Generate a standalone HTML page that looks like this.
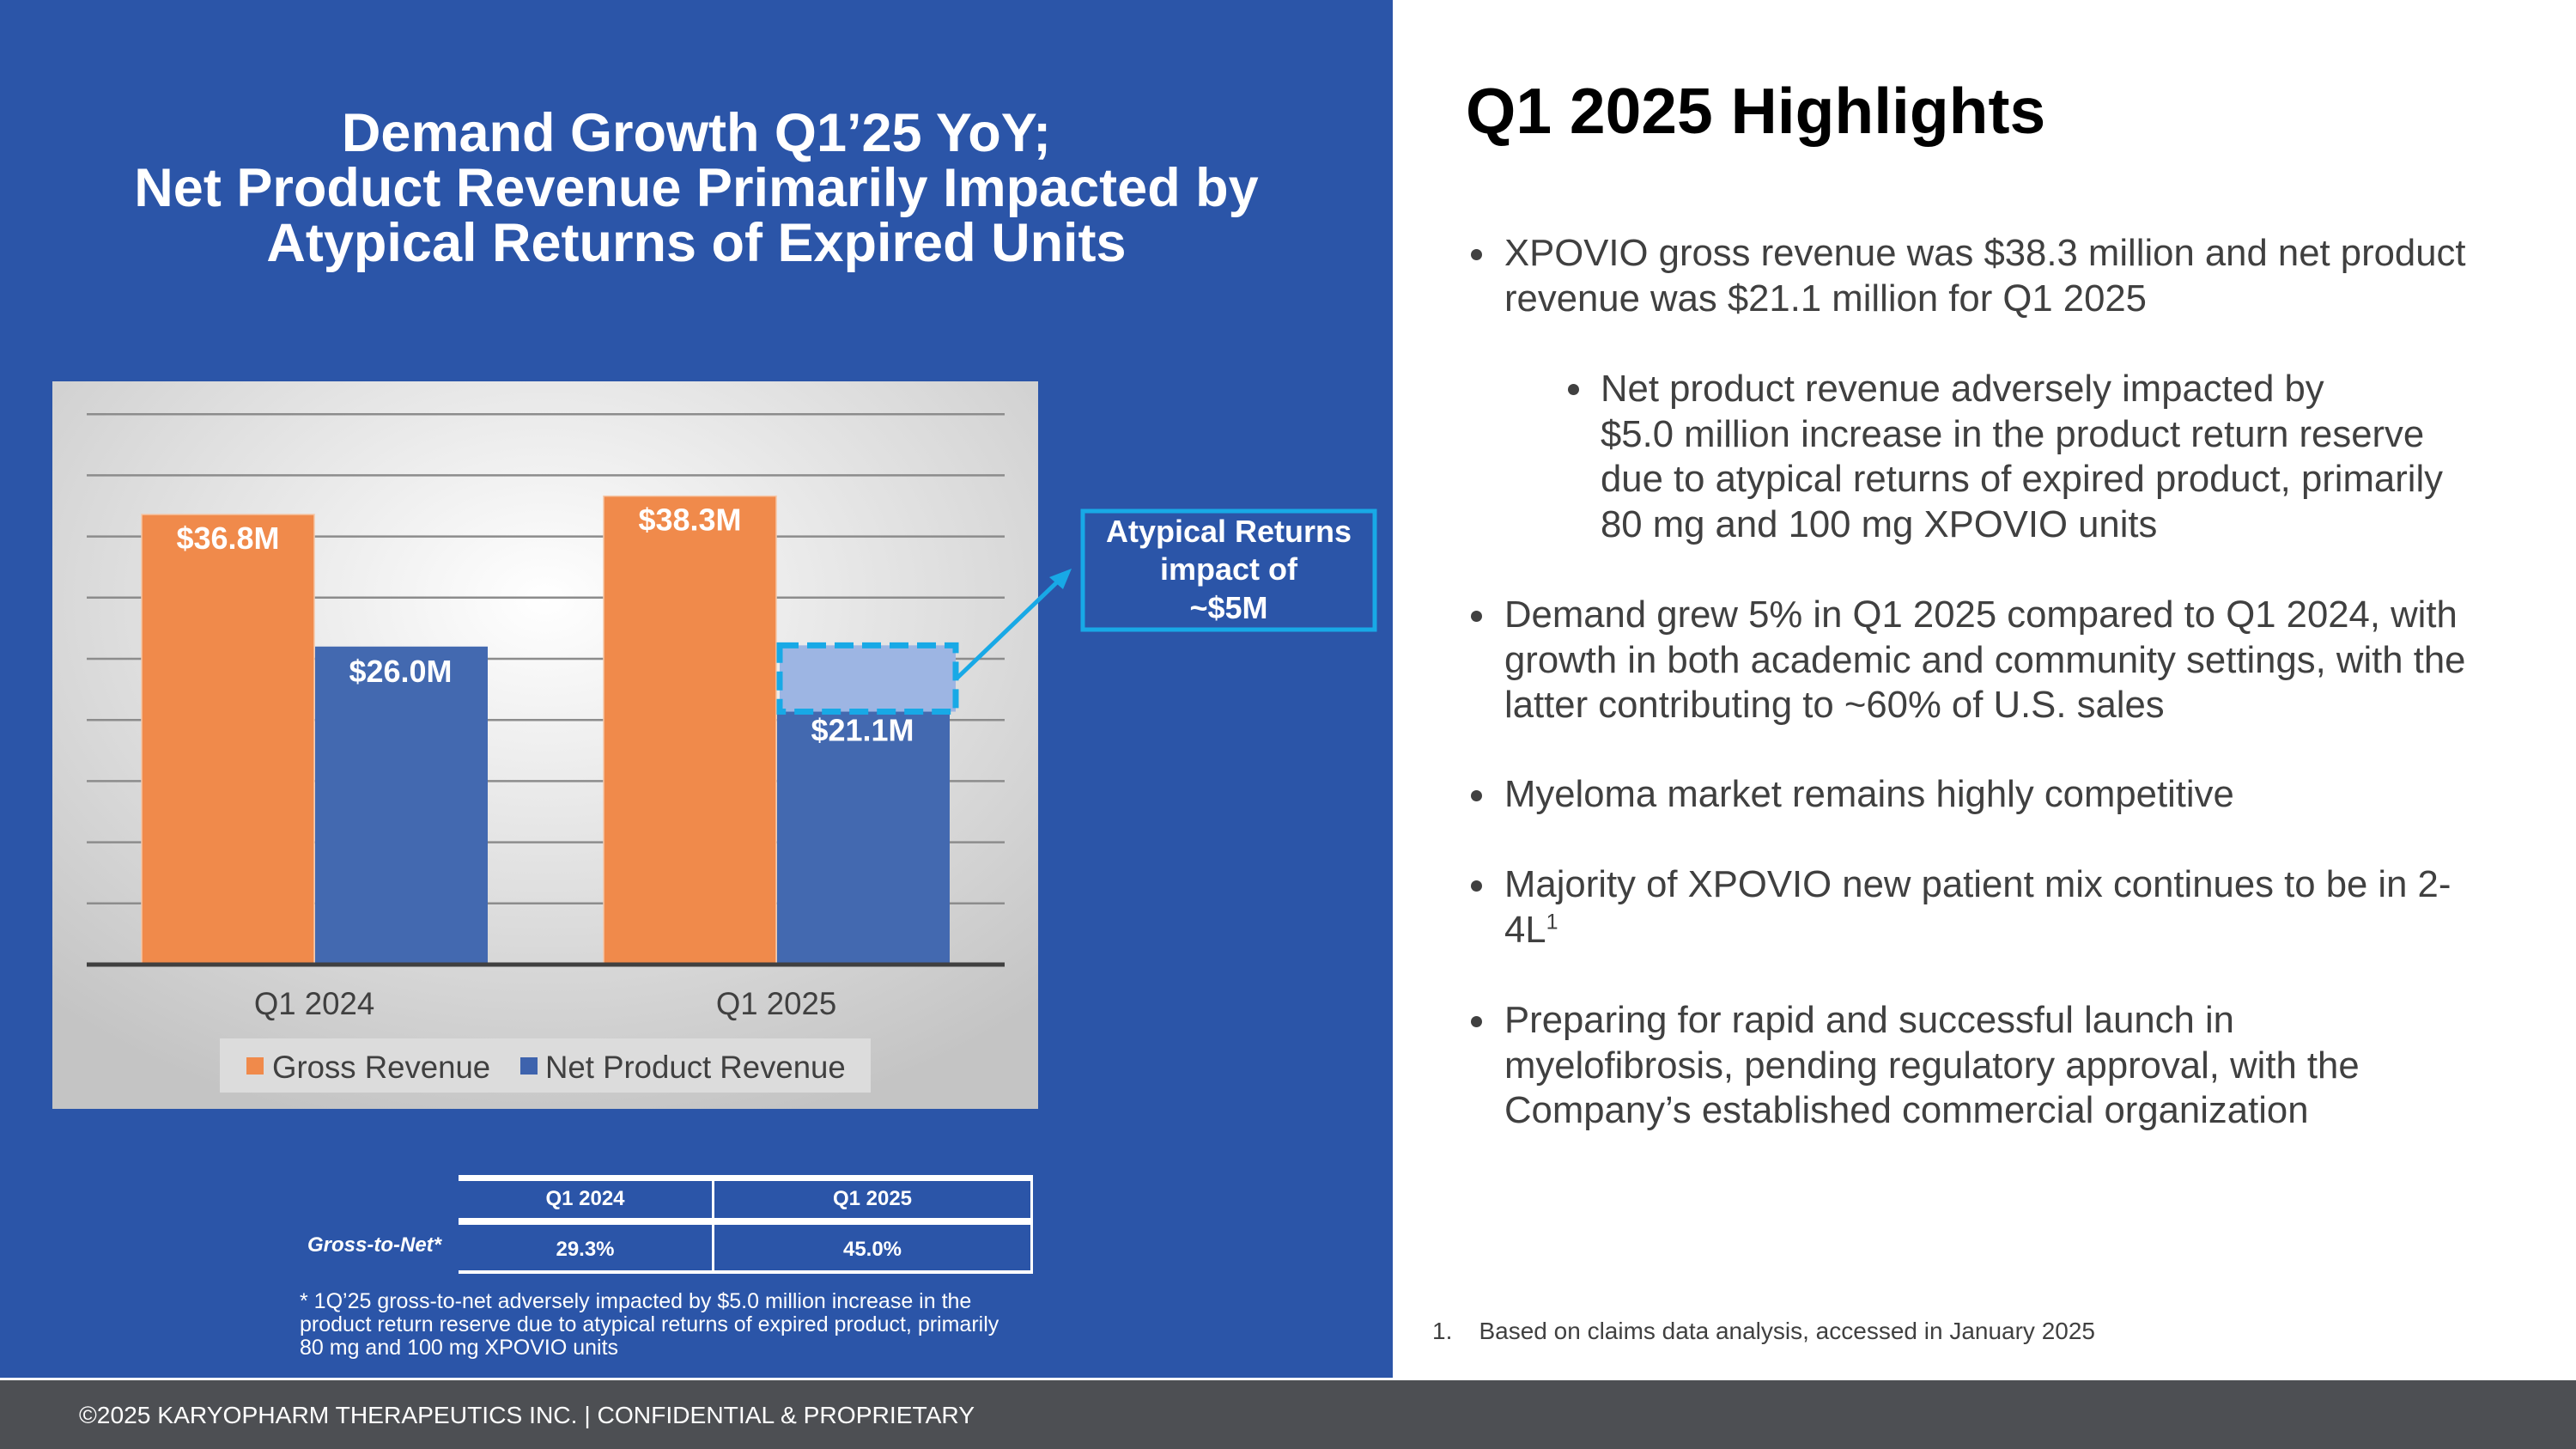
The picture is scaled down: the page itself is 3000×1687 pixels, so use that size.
<!DOCTYPE html>
<html><head><meta charset="utf-8"><style>
body{margin:0;width:3000px;height:1687px;position:relative;overflow:hidden;background:#fff;font-family:"Liberation Sans",sans-serif}
.a{position:absolute;white-space:nowrap}
.t{color:#fff;font-weight:bold;font-size:63px;left:0;width:1622px;text-align:center;line-height:64px}
.b{color:#404040;font-size:43.7px;line-height:52.5px}
.d{position:absolute;width:13px;height:13px;border-radius:50%;background:#404040}
</style></head><body>
<div class="a" style="left:0;top:0;width:1622px;height:1604px;background:#2b55a8"></div>
<div class="a t" style="top:123px">Demand Growth Q1’25 YoY;</div>
<div class="a t" style="top:187px">Net Product Revenue Primarily Impacted by</div>
<div class="a t" style="top:251px">Atypical Returns of Expired Units</div>

<svg class="a" style="left:0;top:0" width="3000" height="1687">
<defs><radialGradient id="g" cx="0.5" cy="0.3" r="0.75"><stop offset="0" stop-color="#ffffff"/><stop offset="1" stop-color="#c4c4c4"/></radialGradient></defs>
<rect x="61" y="444" width="1148" height="847" fill="url(#g)"/>
<g id="grid"></g><g id="bars"></g>
<rect x="256" y="1209" width="758" height="63" fill="#dcdcdc"/>
<rect x="287" y="1231" width="20" height="20" fill="#f08a4b"/>
<text x="317" y="1255" font-size="36.6" fill="#404040" font-family="Liberation Sans">Gross Revenue</text>
<rect x="606" y="1231" width="20" height="20" fill="#3e63ad"/>
<text x="635" y="1255" font-size="36.6" fill="#404040" font-family="Liberation Sans">Net Product Revenue</text>
<line x1="1114" y1="790" x2="1236" y2="673" stroke="#18a9e6" stroke-width="5"/>
<polygon points="1248,662 1222,672 1238,686" fill="#18a9e6"/>
<rect x="1261" y="595" width="340" height="138" fill="none" stroke="#18a9e6" stroke-width="5"/>
<text font-family="Liberation Sans" font-weight="bold" font-size="36" fill="#fff" text-anchor="middle"><tspan x="1431" y="631">Atypical Returns</tspan><tspan x="1431" y="675">impact of</tspan><tspan x="1431" y="720">~$5M</tspan></text>
</svg>

<div class="a" style="left:534px;top:1368px;width:669px;height:114px">
<div class="a" style="left:0;top:0;width:669px;height:7px;background:#fff"></div>
<div class="a" style="left:0;top:50px;width:669px;height:8px;background:#fff"></div>
<div class="a" style="left:0;top:111px;width:669px;height:4px;background:#fff"></div>
<div class="a" style="left:295px;top:0;width:3px;height:114px;background:#fff"></div>
<div class="a" style="left:666px;top:0;width:3px;height:114px;background:#fff"></div>
<div class="a" style="left:0;width:295px;top:14px;text-align:center;color:#fff;font-weight:bold;font-size:24px">Q1 2024</div>
<div class="a" style="left:298px;width:368px;top:14px;text-align:center;color:#fff;font-weight:bold;font-size:24px">Q1 2025</div>
<div class="a" style="left:0;width:295px;top:73px;text-align:center;color:#fff;font-weight:bold;font-size:24px">29.3%</div>
<div class="a" style="left:298px;width:368px;top:73px;text-align:center;color:#fff;font-weight:bold;font-size:24px">45.0%</div>
</div>
<div class="a" style="left:300px;width:214px;text-align:right;top:1436px;color:#fff;font-weight:bold;font-style:italic;font-size:24px">Gross-to-Net*</div>
<div class="a" style="left:349px;top:1502px;color:#fff;font-size:25px;line-height:27px">* 1Q’25 gross-to-net adversely impacted by $5.0 million increase in the<br>product return reserve due to atypical returns of expired product, primarily<br>80 mg and 100 mg XPOVIO units</div>

<div class="a" style="left:1707px;top:86px;font-size:75px;font-weight:bold;color:#000">Q1 2025 Highlights</div>
<div>
<div class="d" style="left:1713px;top:290px"></div>
<div class="a b" style="left:1752px;top:269px">XPOVIO gross revenue was $38.3 million and net product<br>revenue was $21.1 million for Q1 2025</div>
<div class="d" style="left:1826px;top:447px"></div>
<div class="a b" style="left:1864px;top:427px">Net product revenue adversely impacted by<br>$5.0 million increase in the product return reserve<br>due to atypical returns of expired product, primarily<br>80 mg and 100 mg XPOVIO units</div>
<div class="d" style="left:1713px;top:711px"></div>
<div class="a b" style="left:1752px;top:690px">Demand grew 5% in Q1 2025 compared to Q1 2024, with<br>growth in both academic and community settings, with the<br>latter contributing to ~60% of U.S. sales</div>
<div class="d" style="left:1713px;top:920px"></div>
<div class="a b" style="left:1752px;top:899px">Myeloma market remains highly competitive</div>
<div class="d" style="left:1713px;top:1025px"></div>
<div class="a b" style="left:1752px;top:1004px">Majority of XPOVIO new patient mix continues to be in 2-<br>4L<sup style="font-size:25px;line-height:0">1</sup></div>
<div class="d" style="left:1713px;top:1183px"></div>
<div class="a b" style="left:1752px;top:1162px">Preparing for rapid and successful launch in<br>myelofibrosis, pending regulatory approval, with the<br>Company’s established commercial organization</div>
</div>
<div class="a" style="left:1668px;top:1534px;font-size:28px;color:#404040">1.&nbsp;&nbsp;&nbsp;&nbsp;Based on claims data analysis, accessed in January 2025</div>
<div class="a" style="left:0;top:1607px;width:3000px;height:80px;background:#4d4f53"></div>
<div class="a" style="left:92px;top:1631px;font-size:28.2px;color:#fff">©2025 KARYOPHARM THERAPEUTICS INC. | CONFIDENTIAL &amp; PROPRIETARY</div>

<script>
const categories = ["Q1 2024", "Q1 2025"];
const grossValues = [36.8, 38.3];
const netValues = [26.0, 21.1];
const returnImpact = [0, 5.0];
const yTicks = [0,5,10,15,20,25,30,35,40,45];
const NS="http://www.w3.org/2000/svg";
const y = v => 1123 - v*14.24;
const bandStart=97, bandW=538, barW=201;
const cx = i => bandStart + bandW*i + bandW/2;
function mk(tag, attrs, parent){const e=document.createElementNS(NS,tag);for(const k in attrs)e.setAttribute(k,attrs[k]);parent.appendChild(e);return e;}
const grid=document.getElementById('grid'), bars=document.getElementById('bars');
yTicks.forEach((t,i)=>{ if(t===0) return;
  const l=mk('line',{x1:101,x2:1170,y1:y(t),y2:y(t),stroke:'#8c8c8c','stroke-width':2.5},grid);
  
  
});
categories.forEach((c,i)=>{
  const x0=cx(i)-barW;
  const g=mk('rect',{x:x0,y:y(grossValues[i]),width:barW,height:y(0)-y(grossValues[i]),fill:'#f08a4b',stroke:'#f6c6a6','stroke-width':1.5},bars);
  
  
  const n=mk('rect',{x:cx(i)+1,y:y(netValues[i]),width:barW,height:y(0)-y(netValues[i]),fill:'#4369b0'},bars);
  
  
  const gl=mk('text',{x:x0+barW/2,y:y(grossValues[i])+40,'text-anchor':'middle','font-size':36,'font-weight':'bold',fill:'#fff','font-family':'Liberation Sans'},bars);
  gl.textContent='$'+grossValues[i].toFixed(1)+'M';
  
  
  let ny=y(netValues[i])+41;
  if(returnImpact[i]>0){
    const top=y(netValues[i]+returnImpact[i]);
    const r=mk('rect',{x:cx(i)+4,y:top,width:barW+4,height:y(netValues[i])-top+6,fill:'#9db5e3',stroke:'#18a9e6','stroke-width':7,'stroke-dasharray':'22,10'},bars);
    
    
    ny=y(netValues[i])+40;
  }
  const nl=mk('text',{x:cx(i)+barW/2,y:ny,'text-anchor':'middle','font-size':36,'font-weight':'bold',fill:'#fff','font-family':'Liberation Sans'},bars);
  nl.textContent='$'+netValues[i].toFixed(1)+'M';
  
  
  const xl=mk('text',{x:cx(i),y:1181,'text-anchor':'middle','font-size':36.6,fill:'#404040','font-family':'Liberation Sans'},bars);
  xl.textContent=c;
  
  
});
const ax=mk('line',{x1:101,x2:1170,y1:y(0),y2:y(0),stroke:'#404040','stroke-width':5},bars);


</script>
</body></html>
